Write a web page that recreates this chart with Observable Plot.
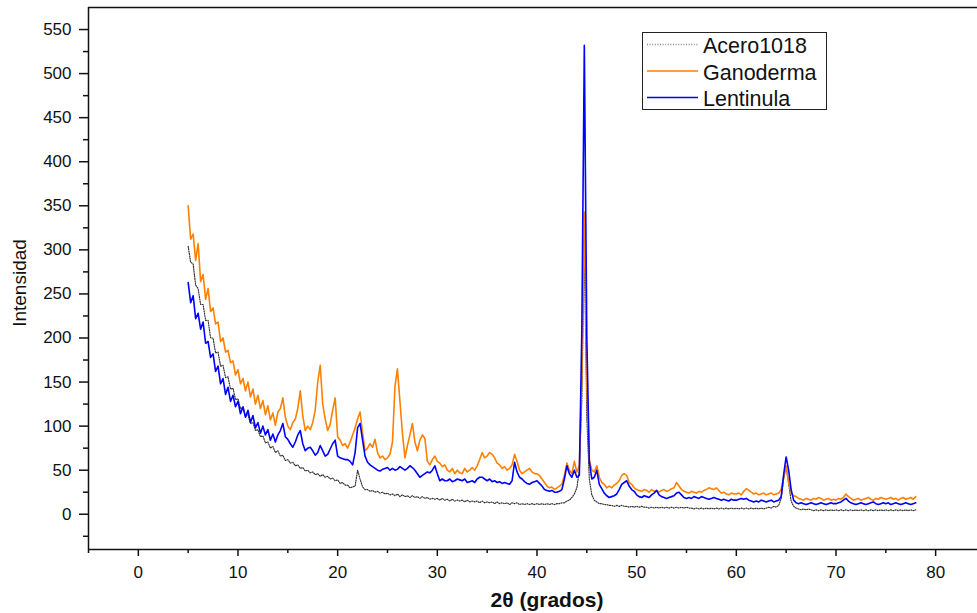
<!DOCTYPE html>
<html><head><meta charset="utf-8">
<script src="https://cdn.jsdelivr.net/npm/d3@7"></script>
<script src="https://cdn.jsdelivr.net/npm/@observablehq/plot@0.6"></script>
<style>
body{margin:0;background:#fff;font-family:"Liberation Sans",Arial,sans-serif;}
#wrap{position:relative;width:977px;height:613px;overflow:hidden;background:#fff}
.ytitle{position:absolute;left:19.5px;top:282.5px;transform:translate(-50%,-50%) rotate(-90deg);font-size:19px;color:#111;white-space:nowrap}
.xtitle{position:absolute;left:547px;top:600px;transform:translate(-50%,-50%);font-size:21px;font-weight:bold;color:#111;white-space:nowrap}
#legend{position:absolute;left:642px;top:32px}
</style></head><body>
<div id="wrap"></div>
<script>
// sampling grid of the scan (degrees 2θ)
const thetaStart = 5, thetaStep = 0.25;

const acero = [
304,286,284,260,256,238,238,220,220,200,200,183,184,168,169,155,156,142,143,130,
131,120,121,111,113,103,104,95,96,88,89,81,82,75,77,70,72,66,67,61,
62,58,59,55,56,52,53,49,50,47,48,45,46,43,45,42,43,40,41,38,
39,35,36,33,33,30,31,32,50,40,31,28,28,26,27,25,26,24,25,23,
24,22,23,21,23,20,22,20,21,19,21,19,20,18,20,18,19,17,18,17,
18,16,18,16,17,15,17,15,16,15,16,14,16,14,15,14,15,13,15,13,
14,13,14,12,14,12,13,12,13,11,13,12,13,11,12,11,12,11,12,11,
12,11,12,11,12,11,12,11,12,12,13,13,15,16,19,23,30,50,130,310,
110,40,22,16,14,12,12,11,11,10,10,9,10,9,10,9,9,8,9,8,
9,8,9,8,8,7,8,7,8,7,8,7,8,7,8,7,8,7,8,7,
8,7,7,6,7,6,7,6,7,6,7,6,7,6,7,6,7,6,7,6,
7,6,7,6,7,6,7,6,7,6,7,6,7,8,7,9,8,10,18,40,
55,35,15,9,7,6,5,6,5,6,5,4,5,4,5,4,5,4,5,4,
5,4,5,4,5,4,5,4,5,4,5,4,5,4,5,4,5,4,5,4,
5,4,5,4,5,4,5,4,5,4,5,4,5
];

const ganoderma = [
350,312,318,288,307,264,272,244,256,230,234,216,218,196,200,184,186,172,174,158,
164,148,154,140,150,133,142,125,135,120,129,113,123,107,115,101,116,120,132,110,
100,96,104,108,120,140,112,95,100,96,104,118,150,169,125,108,95,102,118,132,
88,84,78,80,75,82,90,98,108,116,92,72,75,80,76,85,70,64,66,62,
64,68,82,145,165,128,92,64,78,90,103,82,72,84,90,86,60,56,62,66,
60,58,54,56,50,48,52,46,50,47,46,52,48,50,53,50,55,62,70,64,
66,70,68,64,58,56,52,54,50,52,56,68,60,50,46,48,50,52,48,46,
46,44,40,36,32,30,31,28,30,32,34,44,58,50,46,60,48,55,160,343,
150,62,50,48,55,42,36,34,30,32,30,33,35,38,44,46,44,36,34,30,
28,27,26,28,27,25,28,26,27,25,27,28,26,27,29,30,36,32,28,26,
25,24,26,25,24,26,25,27,28,30,29,28,30,27,24,25,23,22,24,23,
23,24,22,26,29,27,25,23,24,22,23,24,22,23,24,22,23,24,28,42,
55,35,24,21,20,18,17,16,18,17,16,18,17,19,18,16,17,18,16,17,
16,18,17,19,23,20,18,16,17,18,16,17,18,19,17,16,18,17,19,18,
17,18,19,17,18,16,18,19,17,18,19,17,20
];

const lentinula = [
263,240,248,222,228,210,218,194,196,178,182,162,168,148,154,136,144,128,135,122,
128,114,122,110,118,104,112,98,104,92,100,90,96,84,91,82,90,95,103,88,
85,80,76,82,90,95,80,72,75,76,72,67,70,78,72,66,68,74,80,84,
66,64,63,62,62,60,56,70,98,103,84,66,59,56,54,52,50,49,51,52,
53,50,52,50,51,54,52,50,52,55,53,50,46,42,44,46,48,47,50,55,
46,38,40,38,38,40,37,38,40,39,38,40,36,37,38,36,40,42,42,40,
38,40,37,38,36,37,35,36,35,34,38,59,48,42,40,37,35,34,36,37,
38,35,32,28,27,26,27,25,25,26,28,40,55,46,42,50,42,44,210,532,
200,60,40,42,50,34,29,24,21,19,20,21,23,28,34,36,38,32,28,26,
22,20,19,21,20,19,22,24,27,22,20,19,18,19,20,21,24,25,22,19,
18,19,18,20,19,18,20,19,18,17,18,19,18,17,16,17,16,15,17,16,
16,17,18,17,18,16,15,14,15,14,16,15,14,15,16,14,15,16,20,45,
65,50,28,16,13,12,13,12,11,12,13,12,11,12,13,12,11,12,13,12,
12,13,14,16,18,15,13,12,11,12,13,12,11,12,13,14,12,11,12,13,
12,13,11,12,13,12,11,12,13,12,11,12,13
];

const seriesNames = ["Acero1018", "Ganoderma", "Lentinula"];
const seriesColors = ["#333333", "#ff8000", "#0000ff"];
const yTicks = [0, 50, 100, 150, 200, 250, 300, 350, 400, 450, 500, 550];
const yMinorTicks = [-25, 25, 75, 125, 175, 225, 275, 325, 375, 425, 475, 525];
const xTicks = [0, 10, 20, 30, 40, 50, 60, 70, 80];
const xMinorTicks = [-5, 5, 15, 25, 35, 45, 55, 65, 75];
const xDomain = [-5, 84.2];
const yDomain = [-40, 575];
const xTitle = "2θ (grados)";
const yTitle = "Intensidad";

function rows(vals, name) {
  return vals.map((v, i) => ({theta: thetaStart + thetaStep * i, intensity: v, series: name}));
}
const dAcero = rows(acero, seriesNames[0]);
const dGano = rows(ganoderma, seriesNames[1]);
const dLenti = rows(lentinula, seriesNames[2]);

const axisStyle = {stroke: "#111", strokeWidth: 1.5, label: null, fill: "#111"};

const chart = Plot.plot({
  width: 977, height: 613,
  marginLeft: 88, marginRight: 0, marginTop: 7, marginBottom: 64,
  x: {domain: xDomain},
  y: {domain: yDomain},
  style: {fontFamily: "'Liberation Sans', Arial, sans-serif", fontSize: "17px", color: "#111", background: "white"},
  marks: [
    Plot.axisY(yMinorTicks, {...axisStyle, tickSize: 5, tickFormat: () => ""}),
    Plot.axisY(yTicks, {...axisStyle, tickSize: 9, tickPadding: 8, fontSize: 17}),
    Plot.axisX(xMinorTicks, {...axisStyle, tickSize: 4, tickFormat: () => ""}),
    Plot.axisX(xTicks, {...axisStyle, tickSize: 7, tickPadding: 9, fontSize: 17}),
    Plot.ruleX([xDomain[0]], {stroke: "#111", strokeWidth: 1.5}),
    Plot.ruleY([yDomain[0]], {stroke: "#111", strokeWidth: 1.5}),
    Plot.ruleY([yDomain[1]], {stroke: "#111", strokeWidth: 1.5}),
    Plot.line(dAcero, {x: "theta", y: "intensity", stroke: seriesColors[0], strokeWidth: 1.2, strokeDasharray: "1,1.4"}),
    Plot.line(dGano, {x: "theta", y: "intensity", stroke: seriesColors[1], strokeWidth: 1.6}),
    Plot.line(dLenti, {x: "theta", y: "intensity", stroke: seriesColors[2], strokeWidth: 1.6})
  ]
});

const wrap = document.getElementById("wrap");
wrap.appendChild(chart);

const yt = document.createElement("div"); yt.className = "ytitle"; yt.textContent = yTitle; wrap.appendChild(yt);
const xt = document.createElement("div"); xt.className = "xtitle"; xt.textContent = xTitle; wrap.appendChild(xt);

// legend
const ns = "http://www.w3.org/2000/svg";
const lg = document.createElementNS(ns, "svg");
lg.setAttribute("id", "legend"); lg.setAttribute("width", 186); lg.setAttribute("height", 79);
const box = document.createElementNS(ns, "rect");
box.setAttribute("x", 0.5); box.setAttribute("y", 0.5); box.setAttribute("width", 184); box.setAttribute("height", 77);
box.setAttribute("fill", "white"); box.setAttribute("stroke", "#222"); box.setAttribute("stroke-width", 1);
lg.appendChild(box);
const dashes = ["1,1.6", null, null];
seriesNames.forEach((name, i) => {
  const yy = 12.5 + i * 26.5;
  const ln = document.createElementNS(ns, "line");
  ln.setAttribute("x1", 5); ln.setAttribute("x2", 56); ln.setAttribute("y1", yy); ln.setAttribute("y2", yy);
  ln.setAttribute("stroke", i === 0 ? "#888" : seriesColors[i]); ln.setAttribute("stroke-width", 1.3);
  if (dashes[i]) ln.setAttribute("stroke-dasharray", dashes[i]);
  lg.appendChild(ln);
  const tx = document.createElementNS(ns, "text");
  tx.setAttribute("x", 61); tx.setAttribute("y", yy + 8.5);
  tx.setAttribute("font-size", "21.5px"); tx.setAttribute("fill", "#111");
  tx.setAttribute("font-family", "'Liberation Sans', Arial, sans-serif");
  tx.textContent = name;
  lg.appendChild(tx);
});
wrap.appendChild(lg);
</script>
</body></html>
